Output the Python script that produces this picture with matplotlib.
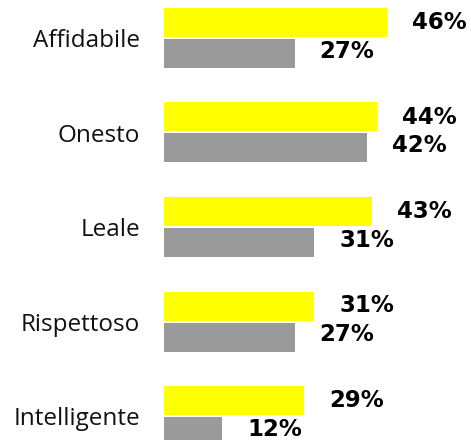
import numpy as np
import matplotlib
matplotlib.use("Agg")
import matplotlib.pyplot as plt
from matplotlib.transforms import offset_copy

categories = ["Affidabile", "Onesto", "Leale", "Rispettoso", "Intelligente"]
yellow_vals = [46, 44, 43, 31, 29]
grey_vals = [27, 42, 31, 27, 12]

YELLOW = "#ffff00"
GREY = "#9a9a9a"

W, H = 471, 440
fig = plt.figure(figsize=(W / 100, H / 100), dpi=100)
left = 164 / W
ax = fig.add_axes([left, 0, 1 - left, 1])

step = 94.5                      # px between groups
bh = 29 / step                   # bar height in group units
off = (29 / 2 + 1) / step        # offset of each bar from group center
y = np.arange(len(categories))

ax.barh(y - off, yellow_vals, height=bh, color=YELLOW)
ax.barh(y + off, grey_vals, height=bh, color=GREY)

px_per_pct = 4.84
ax.set_xlim(0, (W - 164) / px_per_pct)
ax.set_ylim((H - 38) / step, -38 / step)

yel_t = offset_copy(ax.transData, fig=fig, x=25, y=0, units="dots")
gry_t = offset_copy(ax.transData, fig=fig, x=25, y=2.5, units="dots")
for yy, v in zip(y - off, yellow_vals):
    ax.text(v, yy, f"{v}%", transform=yel_t, ha="left", va="center",
            fontsize=16.5, fontweight="heavy", color="black")
for yy, v in zip(y + off, grey_vals):
    ax.text(v, yy, f"{v}%", transform=gry_t, ha="left", va="center",
            fontsize=16.5, fontweight="heavy", color="black")

# category labels, right-aligned left of the bars
cat_t = offset_copy(ax.transData, fig=fig, x=-24, y=-3, units="dots")
for yy, c in zip(y, categories):
    ax.text(0, yy, c, transform=cat_t, ha="right", va="center",
            fontsize=17.5, family="Open Sans", color="#111111")

ax.set_xticks([])
ax.set_yticks([])
for s in ax.spines.values():
    s.set_visible(False)

fig.savefig("out.png", dpi=100)
